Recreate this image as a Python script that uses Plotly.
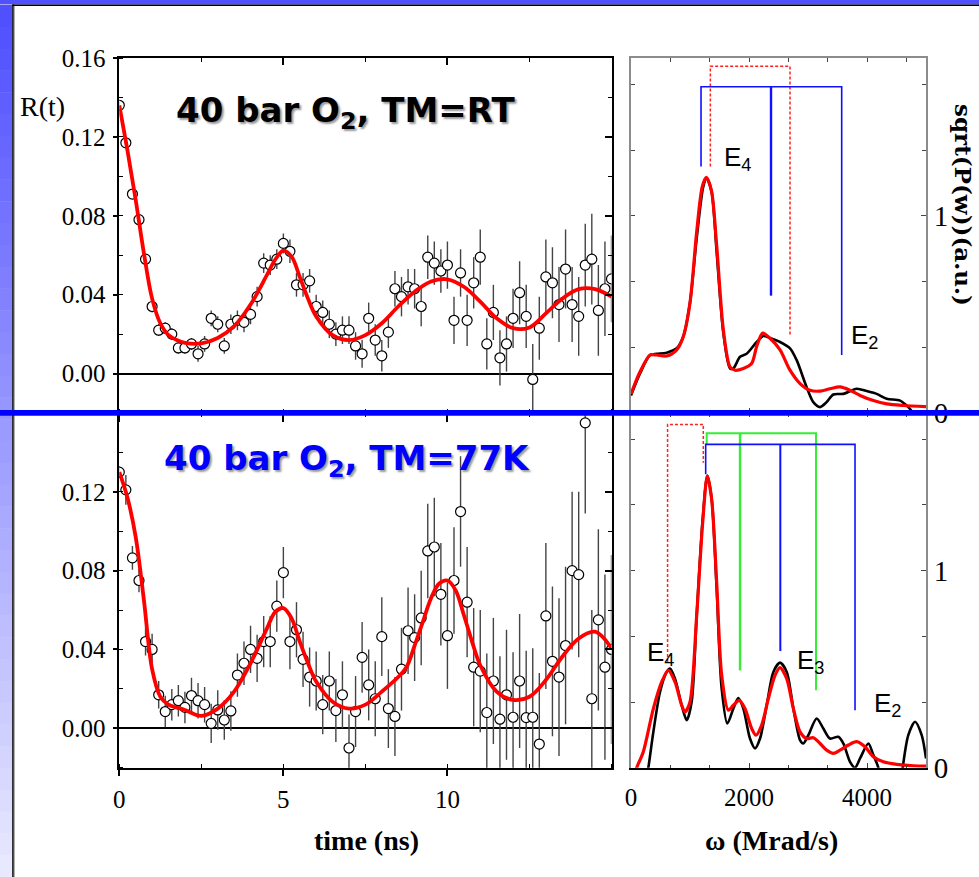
import plotly.graph_objects as go

# ---------------- data ----------------
time_ns = [0.0, 0.2, 0.4, 0.6, 0.8, 1.0, 1.2, 1.4, 1.6, 1.8,
           2.0, 2.2, 2.4, 2.6, 2.8, 3.0, 3.2, 3.4, 3.6, 3.8,
           4.0, 4.2, 4.4, 4.6, 4.8, 5.0, 5.2, 5.4, 5.6, 5.8,
           6.0, 6.2, 6.4, 6.6, 6.8, 7.0, 7.2, 7.4, 7.6, 7.8,
           8.0, 8.2, 8.4, 8.6, 8.8, 9.0, 9.2, 9.4, 9.6, 9.8,
           10.0, 10.2, 10.4, 10.6, 10.8, 11.0, 11.2, 11.4, 11.6, 11.8,
           12.0, 12.2, 12.4, 12.6, 12.8, 13.0, 13.2, 13.4, 13.6, 13.8,
           14.0, 14.2, 14.4, 14.6, 14.8, 15.0]

r_rt = [0.136, 0.117, 0.091, 0.078, 0.058, 0.034, 0.022, 0.023, 0.020, 0.013,
        0.013, 0.015, 0.010, 0.015, 0.028, 0.025, 0.014, 0.025, 0.027, 0.026,
        0.030, 0.039, 0.056, 0.055, 0.058, 0.066, 0.062, 0.045, 0.045, 0.047,
        0.034, 0.031, 0.025, 0.020, 0.022, 0.022, 0.014, 0.010, 0.028, 0.017,
        0.009, 0.021, 0.043, 0.039, 0.044, 0.043, 0.034, 0.059, 0.056, 0.052,
        0.055, 0.027, 0.051, 0.027, 0.046, 0.059, 0.015, 0.031, 0.008, 0.015,
        0.028, 0.041, 0.029, -0.003, 0.023, 0.049, 0.046, 0.035, 0.053, 0.035,
        0.029, 0.055, 0.058, 0.032, 0.043, 0.048]
err_rt = [0.002, 0.002, 0.002, 0.002, 0.002, 0.003, 0.003, 0.003, 0.003, 0.003,
          0.003, 0.003, 0.004, 0.004, 0.004, 0.004, 0.004, 0.005, 0.005, 0.005,
          0.005, 0.005, 0.005, 0.005, 0.005, 0.005, 0.006, 0.006, 0.006, 0.006,
          0.006, 0.006, 0.007, 0.006, 0.007, 0.007, 0.007, 0.007, 0.008, 0.008,
          0.008, 0.008, 0.009, 0.010, 0.009, 0.010, 0.010, 0.011, 0.011, 0.011,
          0.012, 0.012, 0.012, 0.013, 0.013, 0.014, 0.013, 0.014, 0.014, 0.014,
          0.015, 0.016, 0.016, 0.018, 0.016, 0.019, 0.018, 0.019, 0.020, 0.019,
          0.020, 0.021, 0.023, 0.023, 0.024, 0.022]
fit_t_rt = [0, 0.25, 0.5, 0.75, 1.0, 1.25, 1.5, 1.75, 2.0, 2.5, 3.0, 3.5, 4.0, 4.5,
            4.75, 5.0, 5.25, 5.5, 5.75, 6.0, 6.5, 7.0, 7.5, 8.0, 8.5, 9.0, 9.5,
            10.0, 10.5, 11.0, 11.5, 12.0, 12.5, 13.0, 13.5, 14.0, 14.5, 15.0]
fit_rt = [0.136, 0.113, 0.088, 0.061, 0.038, 0.0255, 0.0195, 0.017, 0.0156, 0.0153,
          0.018, 0.024, 0.035, 0.050, 0.0577, 0.0623, 0.0593, 0.049, 0.038, 0.029,
          0.0195, 0.017, 0.0195, 0.0255, 0.034, 0.0415, 0.0467, 0.0478, 0.044, 0.0365,
          0.028, 0.023, 0.0234, 0.0305, 0.038, 0.0428, 0.0428, 0.039]

r_77 = [0.130, 0.121, 0.0865, 0.075, 0.044, 0.040, 0.017, 0.0085, 0.012, 0.014,
        0.0106, 0.0166, 0.014, 0.012, 0.0025, 0.0093, 0.0042, 0.0088, 0.027, 0.033,
        0.040, 0.0355, 0.044, 0.044, 0.062, 0.079, 0.044, 0.050, 0.035, 0.026,
        0.024, 0.012, 0.024, 0.009, 0.017, -0.010, 0.0085, 0.036, 0.022, 0.015,
        0.0465, 0.010, 0.006, 0.030, 0.0495, 0.046, 0.056, 0.090, 0.092, 0.068,
        0.047, 0.075, 0.110, 0.064, 0.031, 0.029, 0.008, 0.024, 0.0046, 0.017,
        0.0056, 0.024, 0.0054, 0.0056, -0.008, 0.057, 0.034, 0.026, 0.042, 0.080,
        0.078, 0.155, 0.015, 0.055, 0.031, 0.040]
err_77 = [0.003, 0.0076, 0.006, 0.006, 0.007, 0.008, 0.007, 0.008, 0.008, 0.008,
          0.008, 0.009, 0.009, 0.009, 0.010, 0.010, 0.010, 0.010, 0.011, 0.011,
          0.012, 0.012, 0.013, 0.013, 0.013, 0.013, 0.014, 0.014, 0.014, 0.015,
          0.015, 0.015, 0.015, 0.016, 0.017, 0.017, 0.018, 0.018, 0.018, 0.019,
          0.020, 0.020, 0.020, 0.021, 0.022, 0.022, 0.024, 0.024, 0.025, 0.026,
          0.027, 0.027, 0.028, 0.028, 0.030, 0.031, 0.030, 0.032, 0.032, 0.033,
          0.033, 0.034, 0.034, 0.035, 0.036, 0.037, 0.038, 0.040, 0.040, 0.040,
          0.042, 0.046, 0.045, 0.046, 0.047, 0.048]
fit_t_77 = [0, 0.25, 0.5, 0.75, 1.0, 1.25, 1.5, 2.0, 2.5, 3.0, 3.5, 4.0, 4.5, 4.75,
            5.0, 5.25, 5.5, 5.75, 6.0, 6.5, 7.0, 7.5, 8.0, 8.5, 8.75, 9.0, 9.25,
            9.5, 9.75, 10.0, 10.25, 10.5, 10.75, 11.0, 11.5, 12.0, 12.5, 13.0,
            13.5, 14.0, 14.5, 15.0]
fit_77 = [0.130, 0.117, 0.097, 0.065, 0.030, 0.016, 0.012, 0.0093, 0.0063, 0.010,
          0.0186, 0.033, 0.0507, 0.059, 0.061, 0.0558, 0.044, 0.033, 0.0237, 0.0135,
          0.010, 0.012, 0.0186, 0.026, 0.031, 0.042, 0.054, 0.066, 0.0735, 0.075,
          0.070, 0.0575, 0.044, 0.032, 0.0186, 0.0144, 0.016, 0.0245, 0.0363, 0.0456,
          0.049, 0.0406]

# spectra sqrt(P(w)), omega in Mrad/s
w_data_rt = [0, 153, 322, 435, 605, 774, 887, 1000, 1113, 1226, 1283, 1367, 1452,
             1565, 1678, 1735, 1848, 1960, 2130, 2243, 2356, 2526, 2695, 2808,
             2978, 3090, 3204, 3316, 3430, 3600, 3825, 3995, 4164, 4334, 4560,
             4700, 4780, 4850]
p_data_rt = [0.089, 0.20, 0.294, 0.30, 0.306, 0.328, 0.388, 0.56, 0.884, 1.149,
             1.19, 1.12, 0.815, 0.405, 0.226, 0.226, 0.285, 0.30, 0.36, 0.39,
             0.38, 0.36, 0.328, 0.268, 0.13, 0.055, 0.03, 0.055, 0.094, 0.097,
             0.123, 0.111, 0.097, 0.072, 0.063, 0.03, 0.0, -0.05]
w_fit_rt = [0, 153, 322, 435, 605, 774, 887, 1000, 1113, 1209, 1277, 1362, 1452,
            1565, 1678, 1763, 1904, 2045, 2130, 2232, 2356, 2526, 2695, 2865,
            3034, 3204, 3373, 3543, 3712, 3882, 4108, 4334, 4616, 5000]
p_fit_rt = [0.097, 0.209, 0.294, 0.294, 0.289, 0.32, 0.388, 0.559, 0.918, 1.149,
            1.195, 1.13, 0.85, 0.422, 0.234, 0.217, 0.226, 0.251, 0.337, 0.405,
            0.379, 0.32, 0.217, 0.149, 0.115, 0.111, 0.123, 0.132, 0.115, 0.089,
            0.063, 0.046, 0.038, 0.032]

w_data_77 = [150, 294, 379, 492, 605, 661, 746, 859, 944, 1028, 1113, 1215, 1294,
             1367, 1452, 1537, 1633, 1735, 1819, 1904, 2017, 2102, 2187, 2300,
             2413, 2526, 2639, 2752, 2865, 2921, 3006, 3147, 3260, 3373, 3514,
             3599, 3712, 3797, 3882, 4023, 4108, 4192, 4334, 4503, 4605, 4700,
             4814, 4927, 5000]
p_data_77 = [-0.25, 0.0, 0.182, 0.384, 0.486, 0.503, 0.452, 0.317, 0.241, 0.334,
             0.772, 1.261, 1.481, 1.363, 0.907, 0.401, 0.224, 0.30, 0.354, 0.30,
             0.148, 0.098, 0.148, 0.317, 0.486, 0.533, 0.486, 0.30, 0.140, 0.123,
             0.165, 0.25, 0.199, 0.148, 0.157, 0.123, 0.030, 0.0, 0.047, 0.123,
             0.064, 0.0, -0.25, -0.25, 0.0, 0.165, 0.233, 0.165, 0.047]
w_fit_77 = [40, 96, 209, 379, 520, 633, 746, 859, 915, 1000, 1113, 1215, 1294,
            1367, 1452, 1537, 1650, 1735, 1836, 1932, 2045, 2119, 2215, 2328,
            2441, 2526, 2639, 2752, 2865, 2978, 3091, 3204, 3317, 3430, 3543,
            3684, 3825, 3966, 4108, 4277, 4503, 4786, 5000]
p_fit_77 = [-0.05, 0.0, 0.081, 0.30, 0.435, 0.494, 0.435, 0.317, 0.283, 0.334,
            0.772, 1.245, 1.481, 1.363, 0.941, 0.469, 0.292, 0.317, 0.342, 0.30,
            0.199, 0.165, 0.216, 0.351, 0.469, 0.508, 0.452, 0.30, 0.182, 0.148,
            0.152, 0.123, 0.089, 0.073, 0.089, 0.115, 0.132, 0.106, 0.056, 0.030,
            0.017, 0.010, 0.008]

# energy-level brackets (omega, height)
blue_rt_w = [1187, 1187, 3571, 3571]
blue_rt_h = [1.25, 1.654, 1.654, 0.294]
blue_rt_mid_w = [2373, 2373]
blue_rt_mid_h = [1.654, 0.595]
red_rt_w = [1345, 1345, 2695, 2695]
red_rt_h = [1.25, 1.758, 1.758, 0.396]

red_77_w = [620, 620, 1226, 1226]
red_77_h = [0.536, 1.742, 1.742, 1.548]
green_77_w = [1283, 1283, 3136, 3136]
green_77_h = [1.641, 1.697, 1.697, 0.393]
green_77_mid_w = [1848, 1848]
green_77_mid_h = [1.697, 0.494]
blue_77_w = [1266, 1266, 3797, 3797]
blue_77_h = [1.489, 1.641, 1.641, 0.292]
blue_77_mid_w = [2531, 2531]
blue_77_mid_h = [1.641, 0.592]

x_ticks_t = [0, 5, 10]
y_ticks_top = [0.0, 0.04, 0.08, 0.12, 0.16]
y_ticks_bot = [0.0, 0.04, 0.08, 0.12]
x_ticks_w = [0, 2000, 4000]
y_ticks_p = [0, 1]

# ---------------- layout helpers ----------------
W, H = 979, 877
def px(x):
    return x / W
def py(y):
    return 1 - y / H

LX = [px(119.3), px(611.5)]
RX = [px(631), px(926)]
TY = [py(413), py(58)]
BY = [py(767.7), py(413)]

SERIF = "Liberation Serif"
tickfont = dict(family=SERIF, size=25, color="black")

fig = go.Figure()

def data_panel(xa, ya, t, r, e, ft, fv):
    fig.add_trace(go.Scatter(
        x=t, y=r, mode="markers", xaxis=xa, yaxis=ya, showlegend=False,
        marker=dict(symbol="circle", size=10, color="white",
                    line=dict(color="black", width=1.2)),
        error_y=dict(type="data", array=e, visible=True, color="#444444",
                     thickness=1.4, width=0)))
    fig.add_trace(go.Scatter(
        x=ft, y=fv, mode="lines", xaxis=xa, yaxis=ya, showlegend=False,
        line=dict(color="#ff0000", width=3.8, shape="spline", smoothing=1.0)))

data_panel("x", "y", time_ns, r_rt, err_rt, fit_t_rt, fit_rt)
data_panel("x2", "y2", time_ns, r_77, err_77, fit_t_77, fit_77)

def spec_panel(xa, ya, wd, pd_, wf, pf):
    fig.add_trace(go.Scatter(
        x=wd, y=pd_, mode="lines", xaxis=xa, yaxis=ya, showlegend=False,
        line=dict(color="black", width=2.6, shape="spline", smoothing=0.8)))
    fig.add_trace(go.Scatter(
        x=wf, y=pf, mode="lines", xaxis=xa, yaxis=ya, showlegend=False,
        line=dict(color="#ff0000", width=3.2, shape="spline", smoothing=0.8)))

spec_panel("x3", "y3", w_data_rt, p_data_rt, w_fit_rt, p_fit_rt)
spec_panel("x4", "y4", w_data_77, p_data_77, w_fit_77, p_fit_77)

def bracket(xa, ya, w, h, color, width, dash="solid"):
    fig.add_trace(go.Scatter(
        x=w, y=h, mode="lines", xaxis=xa, yaxis=ya, showlegend=False,
        line=dict(color=color, width=width, dash=dash)))

bracket("x3", "y3", red_rt_w, red_rt_h, "#ff2020", 1.5, "3px,2px")
bracket("x3", "y3", blue_rt_w, blue_rt_h, "#1010ff", 1.6)
bracket("x3", "y3", blue_rt_mid_w, blue_rt_mid_h, "#1010ff", 2.4)

bracket("x4", "y4", red_77_w, red_77_h, "#ff2020", 1.5, "3px,2px")
bracket("x4", "y4", green_77_w, green_77_h, "#33ee33", 2.0)
bracket("x4", "y4", green_77_mid_w, green_77_mid_h, "#33ee33", 2.4)
bracket("x4", "y4", blue_77_w, blue_77_h, "#1010ff", 1.6)
bracket("x4", "y4", blue_77_mid_w, blue_77_mid_h, "#1010ff", 2.0)

# dummy traces so that the mirrored (top/right) overlay axes get drawn
for i in range(5, 9):
    fig.add_trace(go.Scatter(x=[None], y=[None], xaxis="x%d" % i, yaxis="y%d" % i,
                             showlegend=False, hoverinfo="skip"))

base = dict(showgrid=False, zeroline=False, showline=True, fixedrange=True,
            automargin=False)

def minor(dt, color="black", ln=4):
    return dict(ticks="inside", ticklen=ln, tickwidth=1.4, tickcolor=color,
                dtick=dt, tick0=0, showgrid=False)

layout_axes = {}
# left panels
for i, (ydom, yt, labels) in enumerate([(TY, y_ticks_top, False), (BY, y_ticks_bot, True)], start=1):
    xn = "xaxis" if i == 1 else "xaxis%d" % i
    yn = "yaxis" if i == 1 else "yaxis%d" % i
    ya = "y" if i == 1 else "y%d" % i
    xa = "x" if i == 1 else "x%d" % i
    layout_axes[xn] = dict(base, domain=LX, range=[0, 15], anchor=ya, side="bottom",
                           linecolor="black", linewidth=1.5, ticks="outside", ticklen=7,
                           tickwidth=1.5, tickcolor="black", tickmode="array",
                           tickvals=x_ticks_t, showticklabels=labels, tickfont=tickfont,
                           ticklabelstandoff=2, minor=minor(2.5))
    layout_axes[yn] = dict(base, domain=ydom, range=[-0.02, 0.16], anchor=xa, side="left",
                           linecolor="black", linewidth=1.5, ticks="outside", ticklen=5,
                           tickwidth=1.5, tickcolor="black", tickmode="array",
                           tickvals=yt, tickformat=".2f", tickfont=tickfont,
                           ticklabelstandoff=2, minor=minor(0.02),
                           zeroline=True, zerolinecolor="black", zerolinewidth=2)
    k = i + 4
    layout_axes["xaxis%d" % k] = dict(base, overlaying=xa, anchor="y%d" % k, side="top",
                                      range=[0, 15], linecolor="black", linewidth=1.5,
                                      ticks="inside", ticklen=7, tickwidth=1.5,
                                      tickcolor="black", tickmode="array",
                                      tickvals=[5, 10], showticklabels=False,
                                      minor=minor(2.5))
    layout_axes["yaxis%d" % k] = dict(base, overlaying=ya, anchor="x%d" % k, side="right",
                                      range=[-0.02, 0.16], linecolor="black", linewidth=1.5,
                                      ticks="inside", ticklen=7, tickwidth=1.5,
                                      tickcolor="black", tickmode="array",
                                      tickvals=y_ticks_top, showticklabels=False,
                                      minor=minor(0.02))

# right panels
GRAY = "#8c8c8c"
for i, (ydom, labels) in [(3, (TY, False)), (4, (BY, True))]:
    xa, ya = "x%d" % i, "y%d" % i
    layout_axes["xaxis%d" % i] = dict(base, domain=RX, range=[0, 5000], anchor=ya,
                                      side="bottom", linecolor="black", linewidth=2,
                                      ticks="inside", ticklen=5, tickwidth=1.4,
                                      tickcolor="#444444", tickmode="array",
                                      tickvals=x_ticks_w, showticklabels=labels,
                                      tickfont=tickfont, ticklabelstandoff=6,
                                      minor=minor(2000 / 3, "#444444", 3))
    layout_axes["yaxis%d" % i] = dict(base, domain=ydom, range=[0, 1.8], anchor=xa,
                                      side="right", linecolor=GRAY, linewidth=2,
                                      ticks="inside", ticklen=5, tickwidth=1.4,
                                      tickcolor="#444444", tickmode="array",
                                      tickvals=y_ticks_p,
                                      tickfont=dict(family=SERIF, size=29, color="black"),
                                      ticklabelstandoff=0,
                                      minor=minor(1 / 3, "#444444", 4))
    k = i + 4
    layout_axes["xaxis%d" % k] = dict(base, overlaying=xa, anchor="y%d" % k, side="top",
                                      range=[0, 5000], linecolor=GRAY, linewidth=2,
                                      ticks="inside", ticklen=4, tickwidth=1.4,
                                      tickcolor="#444444", tickmode="array",
                                      tickvals=x_ticks_w, showticklabels=False,
                                      minor=minor(2000 / 3, "#444444", 4))
    layout_axes["yaxis%d" % k] = dict(base, overlaying=ya, anchor="x%d" % k, side="left",
                                      range=[0, 1.8], linecolor=GRAY, linewidth=2,
                                      ticks="inside", ticklen=4, tickwidth=1.4,
                                      tickcolor="#444444", tickmode="array",
                                      tickvals=y_ticks_p, showticklabels=False,
                                      minor=minor(1 / 3, "#444444", 4))

fig.update_layout(**layout_axes)

# ---------------- text ----------------
ann = []
title_font = dict(family="DejaVu Sans", size=34, color="black",
                  shadow="2px 2px 2px #9a9a9a")
ann.append(dict(text="<b>40 bar O<sub>2</sub>, TM=RT</b>", x=px(345), y=py(112),
                xref="paper", yref="paper", showarrow=False, xanchor="center",
                yanchor="middle", font=title_font))
ann.append(dict(text="<b>40 bar O<sub>2</sub>, TM=77K</b>", x=px(347), y=py(460),
                xref="paper", yref="paper", showarrow=False, xanchor="center",
                yanchor="middle", font=dict(title_font, color="#0000ff")))
ann.append(dict(text="R(t)", x=px(42), y=py(106), xref="paper", yref="paper",
                showarrow=False, xanchor="center", yanchor="middle",
                font=dict(family=SERIF, size=28, color="black")))
ann.append(dict(text="<b>time (ns)</b>", x=px(366), y=py(840), xref="paper",
                yref="paper", showarrow=False, xanchor="center", yanchor="middle",
                font=dict(family=SERIF, size=28, color="black")))
ann.append(dict(text="<b>ω (Mrad/s)</b>", x=px(771), y=py(840), xref="paper",
                yref="paper", showarrow=False, xanchor="center", yanchor="middle",
                font=dict(family=SERIF, size=28, color="black")))
ann.append(dict(text="<b>sqrt(P(w))(a.u.)</b>", x=px(963), y=py(205), xref="paper",
                yref="paper", showarrow=False, xanchor="center", yanchor="middle",
                textangle=90, font=dict(family="DejaVu Serif", size=23, color="black")))
efont = dict(family="Liberation Sans", size=26, color="black")
for txt, xr, yr, xv, yv in [("E<sub>4</sub>", "x3", "y3", 1537, 1.29),
                            ("E<sub>2</sub>", "x3", "y3", 3695, 0.39),
                            ("E<sub>4</sub>", "x4", "y4", 237, 0.58),
                            ("E<sub>3</sub>", "x4", "y4", 2780, 0.54),
                            ("E<sub>2</sub>", "x4", "y4", 4085, 0.32)]:
    ann.append(dict(text=txt, x=xv, y=yv, xref=xr, yref=yr, showarrow=False,
                    xanchor="left", yanchor="middle", font=efont))

# ---------------- slide decoration ----------------
shapes = []
n = 40
for k in range(n):
    f = k / (n - 1)
    c = "rgb(%d,%d,%d)" % (80 + f * 152, 80 + f * 152, 255)
    shapes.append(dict(type="rect", xref="paper", yref="paper", x0=0, x1=px(12.3),
                       y0=py(5 + (H - 5) * (k + 1) / n + 0.5), y1=py(5 + (H - 5) * k / n),
                       line=dict(width=0), fillcolor=c, layer="above"))
shapes.append(dict(type="rect", xref="paper", yref="paper", x0=0, x1=1,
                   y0=py(4.6), y1=1, line=dict(width=0), fillcolor="#5050ff", layer="above"))
shapes.append(dict(type="line", xref="paper", yref="paper", x0=px(12.3), x1=1,
                   y0=py(5.2), y1=py(5.2), line=dict(color="black", width=1.5), layer="above"))
shapes.append(dict(type="line", xref="paper", yref="paper", x0=px(13), x1=px(13),
                   y0=0, y1=py(4.6), line=dict(color="black", width=1.6), layer="above"))
shapes.append(dict(type="line", xref="paper", yref="paper", x0=px(14.4), x1=px(14.4),
                   y0=0, y1=py(6), line=dict(color="#b0b0b0", width=1.2), layer="above"))
shapes.append(dict(type="line", xref="paper", yref="paper", x0=0, x1=1,
                   y0=py(412.9), y1=py(412.9), line=dict(color="#0000ff", width=5.6),
                   layer="above"))

fig.update_layout(template="none", width=W, height=H,
                  margin=dict(l=0, r=0, t=0, b=0, pad=0, autoexpand=False),
                  autosize=False, paper_bgcolor="white", plot_bgcolor="white",
                  showlegend=False, annotations=ann, shapes=shapes)

post = "document.body.style.margin='0px';"
fig.write_html("out.html", config={"displayModeBar": False}, post_script=post)
